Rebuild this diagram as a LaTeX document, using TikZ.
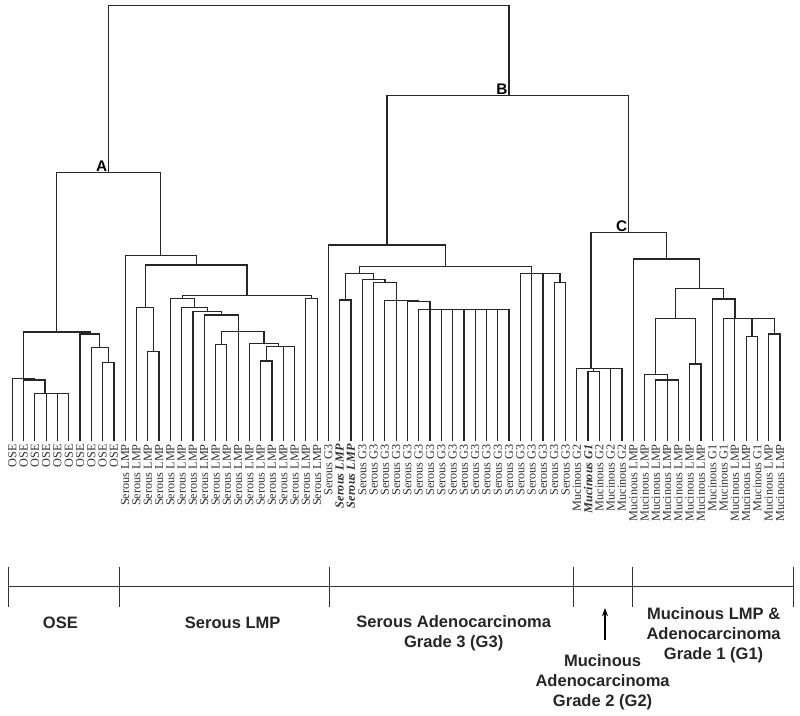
\documentclass[tikz,border=0pt]{standalone}
\usepackage{fontspec}
\setmainfont{Liberation Serif}
\setsansfont{Liberation Sans}
\usetikzlibrary{arrows.meta}

\begin{document}
\begin{tikzpicture}[x=0.75pt, y=-0.75pt,
    branch/.style={draw=black!85, line width=0.9pt},
    axisline/.style={draw=black!80, line width=0.7pt},
    leaflab/.style={rotate=90, anchor=east, inner sep=0pt, font=\fontsize{9.2}{10}\selectfont, text=black!80},
    cluster/.style={anchor=south east, inner sep=0pt, xshift=-1pt, yshift=0.8pt, font=\sffamily\bfseries\fontsize{11.5}{13}\selectfont},
    grouplab/.style={align=center, inner sep=0pt, text=black!85, font=\sffamily\bfseries\fontsize{12.4}{15}\selectfont},
    arrow/.style={-{Stealth[length=2.2mm, width=1.6mm]}, line width=0.8pt}
]
\useasboundingbox (0,0) rectangle (800,716);

% leaf tips and labels
\foreach \i in {0,...,68}{\coordinate (l\i) at ({12.3+11.29*\i},441);}
\foreach \i in {0,...,9}{\node[leaflab] (t\i) at ({12.3+11.29*\i},444) {OSE};}
\foreach \i in {10,...,27}{\node[leaflab] (t\i) at ({12.3+11.29*\i},444) {Serous LMP};}
\foreach \i in {28,31,32,...,49}{\node[leaflab] (t\i) at ({12.3+11.29*\i},444) {Serous G3};}
\foreach \i in {29,30}{\node[leaflab] (t\i) at ({12.3+11.29*\i},444) {\textbf{\textit{Serous LMP}}};}
\foreach \i in {50,52,53,54}{\node[leaflab] (t\i) at ({12.3+11.29*\i},444) {Mucinous G2};}
\node[leaflab] (t51) at ({12.3+11.29*51},444) {\textbf{\textit{Mucinous G1}}};
\foreach \i in {55,...,61,64,65,67,68}{\node[leaflab] (t\i) at ({12.3+11.29*\i},444) {Mucinous LMP};}
\foreach \i in {62,63,66}{\node[leaflab] (t\i) at ({12.3+11.29*\i},444) {Mucinous G1};}

% OSE branch
\coordinate (o1) at (45,393.3);
\coordinate (o2) at (34.3,380);
\coordinate (o3) at (23.3,378.3);
\coordinate (o4) at (108.3,362.7);
\coordinate (o5) at (99.8,347.3);
\coordinate (o6) at (89.9,334);
\coordinate (o7) at (56.6,332);
% serous LMP branch
\coordinate (p1) at (153.5,351.7);
\coordinate (p2) at (145.5,307.7);
\coordinate (p3) at (221.2,344.3);
\coordinate (p4) at (266.4,361);
\coordinate (p5) at (278.3,346.7);
\coordinate (p6) at (263.9,343.3);
\coordinate (p7) at (238.1,331.7);
\coordinate (p8) at (221.2,315);
\coordinate (p9) at (207.1,311.7);
\coordinate (p10) at (194.4,307.7);
\coordinate (p11) at (182.4,298.7);
\coordinate (p12) at (311.5,298.3);
\coordinate (p13) at (247,295.7);
\coordinate (p14) at (196.3,265);
\coordinate (p15) at (160.8,255.7);
% serous G3 branch
\coordinate (s1) at (345.4,300);
\coordinate (s2) at (430,309.5);
\coordinate (s3) at (418.8,301.7);
\coordinate (s4) at (396.2,300.5);
\coordinate (s5) at (384.9,282.3);
\coordinate (s6) at (373.6,279.3);
\coordinate (s7) at (359.5,273.3);
\coordinate (s8) at (559.9,282.3);
\coordinate (s9) at (531.6,273.3);
\coordinate (s10) at (445.5,266.7);
\coordinate (s11) at (387,245);
% mucinous branch
\coordinate (m1) at (593.8,371.7);
\coordinate (m2) at (591,368.3);
\coordinate (m3) at (667.1,380);
\coordinate (m4) at (655.8,374.3);
\coordinate (m5) at (695.4,364);
\coordinate (m6) at (675.6,318.3);
\coordinate (m7) at (751.9,336.7);
\coordinate (m8) at (774.4,334);
\coordinate (m9) at (734.9,318.3);
\coordinate (m10) at (723.6,299);
\coordinate (m11) at (699.6,288.3);
\coordinate (m12) at (666.5,259);
% main clusters
\coordinate (A) at (108.7,172.7);
\coordinate (C) at (628.7,232.5);
\coordinate (B) at (509,95.7);
\coordinate (top) at (309,5.5);

\foreach \a/\b in {l2/o1,l3/o1,l4/o1,l5/o1,l1/o2,o1/o2,l0/o3,o2/o3,l8/o4,l9/o4,l7/o5,o4/o5,l6/o6,o5/o6,o3/o7,o6/o7}{\draw[branch] (\a) |- (\b);}
\foreach \a/\b in {l12/p1,l13/p1,l11/p2,p1/p2,l18/p3,l19/p3,l22/p4,l23/p4,p4/p5,l24/p5,l25/p5,l21/p6,p5/p6,p3/p7,l20/p7,p6/p7,l17/p8,p7/p8,l16/p9,p8/p9,l15/p10,p9/p10,l14/p11,p10/p11,l26/p12,l27/p12,p11/p13,p12/p13,p2/p14,p13/p14,l10/p15,p14/p15}{\draw[branch] (\a) |- (\b);}
\foreach \i in {36,...,44}{\draw[branch] (l\i) |- (s2);}
\foreach \a/\b in {l29/s1,l30/s1,l35/s3,s2/s3,l33/s4,l34/s4,s3/s4,l32/s5,s4/s5,l31/s6,s5/s6,s1/s7,s6/s7,l48/s8,l49/s8,l45/s9,l46/s9,l47/s9,s8/s9,s7/s10,s9/s10,l28/s11,s10/s11}{\draw[branch] (\a) |- (\b);}
\foreach \a/\b in {l51/m1,l52/m1,l50/m2,m1/m2,l53/m2,l54/m2,l57/m3,l58/m3,l59/m3,l56/m4,m3/m4,l60/m5,l61/m5,m4/m6,m5/m6,l65/m7,l66/m7,l67/m8,l68/m8,l63/m9,l64/m9,m7/m9,m8/m9,l62/m10,m9/m10,m6/m11,m10/m11,l55/m12,m11/m12}{\draw[branch] (\a) |- (\b);}
\foreach \a/\b in {o7/A,p15/A,m2/C,m12/C,s11/B,C/B,A/top,B/top}{\draw[branch] (\a) |- (\b);}

\node[cluster] (labA) at (A) {A};
\node[cluster] (labB) at (B) {B};
\node[cluster] (labC) at (C) {C};

% group axis
\draw[axisline] (8,586.7) -- (793,586.7);
\foreach \x in {8,119,329.7,573,632,793}{\draw[axisline] (\x,566.7) -- (\x,606.7);}
\node[grouplab] (gOSE) at (60.4,623) {OSE};
\node[grouplab] (gLMP) at (232.7,623) {Serous LMP};
\node[grouplab] (gG3) at (453.7,633.3) {Serous Adenocarcinoma\\Grade 3 (G3)};
\node[grouplab] (gG1) at (713.6,635) {Mucinous LMP \&\\Adenocarcinoma\\Grade 1 (G1)};
\node[grouplab] (gG2) at (602.6,682.5) {Mucinous\\Adenocarcinoma\\Grade 2 (G2)};
\coordinate (arrbase) at (605,640);
\coordinate (arrtip) at (605,608);
\draw[arrow] (arrbase) -- (arrtip);
\end{tikzpicture}
\end{document}
